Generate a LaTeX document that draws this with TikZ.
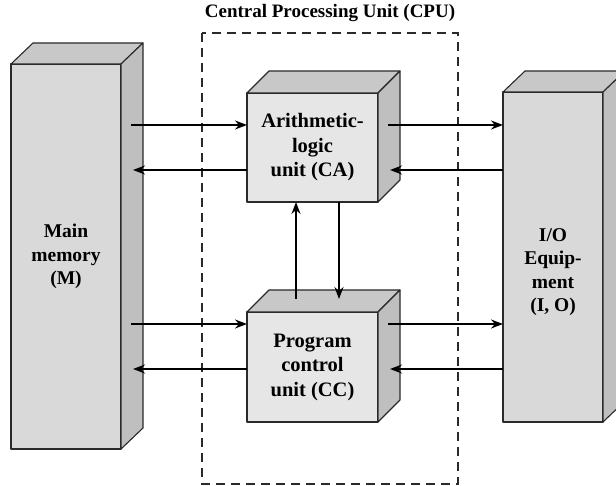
\documentclass[tikz,border=0pt]{standalone}
\usepackage{fontspec}
\setmainfont{Liberation Serif}
\usetikzlibrary{arrows.meta}
\definecolor{edgec}{HTML}{2A2A2A}
\definecolor{frontA}{HTML}{D9D9D9}
\definecolor{frontB}{HTML}{E6E6E6}
\definecolor{topc}{HTML}{C8C8C8}
\definecolor{sidec}{HTML}{BFBFBF}
\begin{document}
\begin{tikzpicture}[x=1pt,y=-1pt,
  face/.style={draw=edgec,line width=1.1pt,line join=round},
  bigfront/.style={face,fill=frontA,inner sep=0pt,outer sep=0pt},
  unitfront/.style={face,fill=frontB,inner sep=0pt,outer sep=0pt,
     minimum width=131pt,minimum height=109pt},
  lbl/.style={align=center,font=\bfseries\fontsize{19.5}{23.5}\selectfont},
  unitlbl/.style={align=center,font=\bfseries\fontsize{20.5}{24.5}\selectfont},
  arr/.style={line width=1.8pt,-{Stealth[length=12pt,width=9pt,inset=4pt]}},
  cpubox/.style={draw=edgec,line width=1.1pt,dash pattern=on 9pt off 6pt}
]
\useasboundingbox (0,0) rectangle (616,486);
\clip (0,0) rectangle (616,486);

% CPU dashed boundary and title
\draw[cpubox] (202,33) rectangle (458,484);
\node[font=\bfseries\fontsize{19}{23}\selectfont] (title) at (330,13) {Central Processing Unit (CPU)};

% Main memory
\node[bigfront,minimum width=110pt,minimum height=385pt] (mm) at (66,256.5) {};
\draw[face,fill=topc] (mm.north west) -- ++(22,-21) -- ++(110,0) -- (mm.north east) -- cycle;
\draw[face,fill=sidec] (mm.north east) -- ++(22,-21) -- ++(0,385) -- (mm.south east) -- cycle;
\node[lbl] (mmtext) at (mm.center) {Main\\memory\\(M)};

% I/O equipment
\node[bigfront,minimum width=100pt,minimum height=330pt] (io) at (553,257) {};
\draw[face,fill=topc] (io.north west) -- ++(22,-21) -- ++(100,0) -- (io.north east) -- cycle;
\draw[face,fill=sidec] (io.north east) -- ++(22,-21) -- ++(0,330) -- (io.south east) -- cycle;
\node[lbl] (iotext) at (553,272) {I/O\\Equip-\\ment\\(I, O)};

% ALU
\node[unitfront] (alu) at (312.5,147.5) {};
\draw[face,fill=topc] (alu.north west) -- ++(22,-22) -- ++(131,0) -- (alu.north east) -- cycle;
\draw[face,fill=sidec] (alu.north east) -- ++(22,-22) -- ++(0,109) -- (alu.south east) -- cycle;
\node[unitlbl] (alutext) at (alu.center) {Arithmetic-\\logic\\unit (CA)};

% PCU
\node[unitfront,minimum height=110pt] (pcu) at (312.5,367) {};
\draw[face,fill=topc] (pcu.north west) -- ++(22,-22) -- ++(131,0) -- (pcu.north east) -- cycle;
\draw[face,fill=sidec] (pcu.north east) -- ++(22,-22) -- ++(0,110) -- (pcu.south east) -- cycle;
\node[unitlbl] (pcutext) at (pcu.center) {Program\\control\\unit (CC)};

% reference points on the side faces
\path (mm.east) ++(10,0) coordinate (mmout);
\path (mm.east) ++(12,0) coordinate (mmin);
\path (alu.east) ++(10,0) coordinate (aluout);
\path (alu.east) ++(12,0) coordinate (aluin);
\path (pcu.east) ++(10,0) coordinate (pcuout);
\path (pcu.east) ++(12,0) coordinate (pcuin);
\path (pcu.north) ++(0,-13) coordinate (pcutop);

% Main memory <-> units
\draw[arr] (mmout |- 0,125) -- (alu.west |- 0,125);
\draw[arr] (alu.west |- 0,170) -- (mmin |- 0,170);
\draw[arr] (mmout |- 0,324) -- (pcu.west |- 0,324);
\draw[arr] (pcu.west |- 0,369) -- (mmin |- 0,369);

% units <-> I/O
\draw[arr] (aluout |- 0,125) -- (io.west |- 0,125);
\draw[arr] (io.west |- 0,170) -- (aluin |- 0,170);
\draw[arr] (pcuout |- 0,324) -- (io.west |- 0,324);
\draw[arr] (io.west |- 0,369) -- (pcuin |- 0,369);

% ALU <-> PCU
\draw[arr] (296,0 |- pcutop) -- (296,0 |- alu.south);
\draw[arr] (339,0 |- alu.south) -- (339,0 |- pcutop);
\end{tikzpicture}
\end{document}
